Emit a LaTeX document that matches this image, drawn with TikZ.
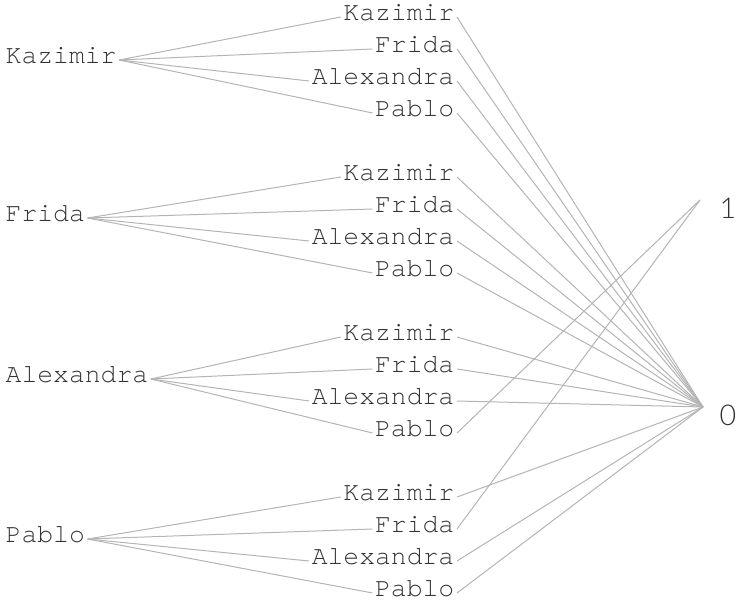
\documentclass[tikz,border=0pt]{standalone}
\usepackage{fontspec}
\setmonofont{TeX Gyre Cursor}
\newfontfamily\numfont{Lato}[UprightFont=* Light]
\definecolor{txt}{HTML}{333333}
\definecolor{edgec}{HTML}{B4B4B4}
\definecolor{numc}{HTML}{333333}
\begin{document}
\begin{tikzpicture}[x=0.75pt,y=-0.75pt,
  person/.style={font=\fontsize{19.8}{20}\selectfont\ttfamily, text=txt, inner xsep=1.8pt, inner ysep=0pt, text height=1.3ex, text depth=0pt},
  digit/.style={font=\fontsize{21.5}{22}\selectfont\numfont, text=numc, inner sep=0pt},
  link/.style={draw=edgec, line width=0.75pt}]
\useasboundingbox (0,0) rectangle (736,603);
% outcome points and labels
\coordinate (c1) at (700,200);
\coordinate (c0) at (703,407);
\node[digit] (one) at (728,208) {1};
\node[digit] (zero) at (728,415) {0};
% first level
\foreach \nm/\ly [count=\k from 0] in {Kazimir/60,Frida/218,Alexandra/379,Pablo/539} {
  \node[person, anchor=west] (L\k) at (3,\ly) {\nm};
  \foreach \sn [count=\j from 0] in {Kazimir,Frida,Alexandra,Pablo} {
    \node[person, anchor=east] (S\k\j) at (457,{17+160*\k+32*\j}) {\sn};
    \draw[link] (L\k.east) -- (S\k\j.west);
  }
}
% second level to outcomes
\foreach \k/\j/\o in {0/0/0,0/1/0,0/2/0,0/3/0,
                      1/0/0,1/1/0,1/2/0,1/3/0,
                      2/0/0,2/1/0,2/2/0,2/3/1,
                      3/0/0,3/1/1,3/2/0,3/3/0} {
  \draw[link] (S\k\j.east) -- (c\o);
}
\end{tikzpicture}
\end{document}
